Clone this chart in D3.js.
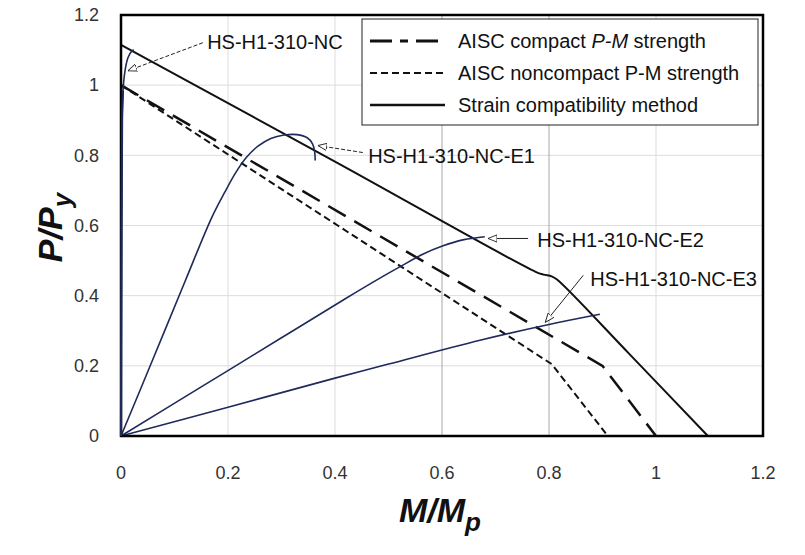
<!DOCTYPE html>
<html>
<head>
<meta charset="utf-8">
<script src="https://cdn.jsdelivr.net/npm/d3@7"></script>
<style>
  body { margin: 0; background: #fff; }
  text { font-family: "Liberation Sans", Arial, sans-serif; }
</style>
</head>
<body>
<svg id="chart"></svg>
<script>
// ---- data (M/Mp, P/Py) ----
const xTicks = [0, 0.2, 0.4, 0.6, 0.8, 1, 1.2];
const yTicks = [0, 0.2, 0.4, 0.6, 0.8, 1, 1.2];

const aiscCompact = [[0, 1.0], [0.9, 0.2], [1.0, 0]];
const aiscNoncompact = [[0, 1.0], [0.805, 0.205], [0.91, 0]];
const strainCompat = [[0, 1.115], [0.4, 0.782], [0.775, 0.468], [0.79, 0.46], [0.805, 0.455], [0.815, 0.446], [0.95, 0.234], [1.097, 0]];

const testNC = [[0, 0], [0.001, 0.6], [0.002, 0.9], [0.0037, 0.984], [0.0075, 1.041], [0.013, 1.078], [0.0206, 1.098], [0.024, 1.1]];
const testE1 = [[0, 0], [0.06, 0.22], [0.12, 0.442], [0.17, 0.624], [0.194, 0.695], [0.215, 0.752], [0.235, 0.795], [0.256, 0.826], [0.28, 0.848], [0.305, 0.858], [0.329, 0.859], [0.348, 0.85], [0.358, 0.833], [0.362, 0.81], [0.363, 0.785]];
const testE2 = [[0, 0], [0.15, 0.14], [0.3, 0.28], [0.42, 0.392], [0.484, 0.45], [0.521, 0.482], [0.564, 0.518], [0.602, 0.542], [0.639, 0.559], [0.665, 0.565], [0.68, 0.568]];
const testE3 = [[0, 0], [0.2, 0.082], [0.4, 0.165], [0.5, 0.205], [0.671, 0.273], [0.8, 0.318], [0.895, 0.347]];

const legendItems = ["AISC compact |P-M| strength", "AISC noncompact  P-M strength", "Strain compatibility  method"];

// label anchor, leader start, arrow tip (data units)
const notes = [
  { text: "HS-H1-310-NC", at: [0.161, 1.104], from: [0.153, 1.121], tip: [0.013, 1.041], dash: "4,2" },
  { text: "HS-H1-310-NC-E1", at: [0.462, 0.777], from: [0.452, 0.808], tip: [0.368, 0.828], dash: "4,2" },
  { text: "HS-H1-310-NC-E2", at: [0.778, 0.538], from: [0.761, 0.563], tip: [0.686, 0.563], dash: null },
  { text: "HS-H1-310-NC-E3", at: [0.877, 0.427], from: [0.864, 0.458], tip: [0.793, 0.324], dash: null }
];

const width = 805, height = 555;
const margin = { left: 121, right: 42, top: 15, bottom: 119 };

const svg = d3.select("#chart")
  .attr("width", width)
  .attr("height", height);

const x = d3.scaleLinear().domain([0, 1.2]).range([margin.left, width - margin.right]);
const y = d3.scaleLinear().domain([0, 1.2]).range([height - margin.bottom, margin.top]);

// grid
svg.append("g").selectAll("line.h")
  .data(yTicks.slice(1, -1))
  .join("line")
    .attr("x1", x(0)).attr("x2", x(1.2))
    .attr("y1", d => y(d)).attr("y2", d => y(d))
    .attr("stroke", "#dcdcdc").attr("stroke-width", 1);

svg.append("g").selectAll("line.v")
  .data(xTicks.slice(1, -1))
  .join("line")
    .attr("y1", y(0)).attr("y2", y(1.2))
    .attr("x1", d => x(d)).attr("x2", d => x(d))
    .attr("stroke", d => (d === 0.6 || d === 0.8) ? "#a8a8a8" : "#dcdcdc")
    .attr("stroke-width", 1);

// tick labels
svg.append("g").selectAll("text")
  .data(yTicks)
  .join("text")
    .attr("x", x(0) - 22)
    .attr("y", d => y(d))
    .attr("dy", "0.35em")
    .attr("text-anchor", "end")
    .attr("font-size", 18)
    .attr("fill", "#333")
    .text(d => d);

svg.append("g").selectAll("text")
  .data(xTicks)
  .join("text")
    .attr("x", d => x(d))
    .attr("y", y(0) + 43)
    .attr("text-anchor", "middle")
    .attr("font-size", 18)
    .attr("fill", "#333")
    .text(d => d);

const line = d3.line().x(d => x(d[0])).y(d => y(d[1]));
const smooth = d3.line().x(d => x(d[0])).y(d => y(d[1])).curve(d3.curveCatmullRom.alpha(0.5));

// design curves
svg.append("path").datum(aiscCompact)
  .attr("d", line).attr("fill", "none")
  .attr("stroke", "#111").attr("stroke-width", 2.5)
  .attr("stroke-dasharray", "20,10");

svg.append("path").datum(aiscNoncompact)
  .attr("d", line).attr("fill", "none")
  .attr("stroke", "#111").attr("stroke-width", 2)
  .attr("stroke-dasharray", "7,4");

svg.append("path").datum(strainCompat)
  .attr("d", smooth).attr("fill", "none")
  .attr("stroke", "#111").attr("stroke-width", 2);

// test curves
svg.append("g").selectAll("path")
  .data([testNC, testE1, testE2, testE3])
  .join("path")
    .attr("d", smooth)
    .attr("fill", "none")
    .attr("stroke", "#1f2a5c")
    .attr("stroke-width", 1.6);

// frame
svg.append("rect")
  .attr("x", x(0)).attr("y", y(1.2))
  .attr("width", x(1.2) - x(0)).attr("height", y(0) - y(1.2))
  .attr("fill", "none").attr("stroke", "#000").attr("stroke-width", 2.5);

// NC curve runs along the left edge, drawn on top of the frame
svg.append("path").datum(testNC.slice(0, 4))
  .attr("d", smooth).attr("fill", "none")
  .attr("stroke", "#1f2a5c").attr("stroke-width", 2.2);

// annotations
svg.append("defs").append("marker")
  .attr("id", "openArrow")
  .attr("viewBox", "0 0 10 10")
  .attr("refX", 10).attr("refY", 5)
  .attr("markerWidth", 9).attr("markerHeight", 9)
  .attr("markerUnits", "userSpaceOnUse")
  .attr("orient", "auto")
  .append("path")
    .attr("d", "M0,1 L10,5 L0,9 Z")
    .attr("fill", "#fff").attr("stroke", "#222").attr("stroke-width", 1);

const noteG = svg.append("g").selectAll("g").data(notes).join("g");
noteG.append("line")
  .attr("x1", d => x(d.from[0])).attr("y1", d => y(d.from[1]))
  .attr("x2", d => x(d.tip[0])).attr("y2", d => y(d.tip[1]))
  .attr("stroke", "#222").attr("stroke-width", 1)
  .attr("stroke-dasharray", d => d.dash)
  .attr("marker-end", "url(#openArrow)");
noteG.append("text")
  .attr("x", d => x(d.at[0])).attr("y", d => y(d.at[1]))
  .attr("font-size", 20).attr("fill", "#111")
  .text(d => d.text);

// legend
const lg = svg.append("g").attr("transform", "translate(362,19)");
lg.append("rect")
  .attr("width", 396).attr("height", 106)
  .attr("fill", "#fff").attr("stroke", "#222").attr("stroke-width", 1);

const legendStyles = [
  { dash: "22,8,8,8", w: 3 },
  { dash: "7,4", w: 2 },
  { dash: null, w: 2.5 }
];
const rows = lg.selectAll("g").data(legendItems).join("g")
  .attr("transform", (d, i) => `translate(0,${22 + i * 32})`);
rows.append("line")
  .attr("x1", 8).attr("x2", 83)
  .attr("stroke", "#111")
  .attr("stroke-width", (d, i) => legendStyles[i].w)
  .attr("stroke-dasharray", (d, i) => legendStyles[i].dash);
rows.append("text")
  .attr("x", 96).attr("dy", "0.35em")
  .attr("font-size", 20).attr("fill", "#111")
  .each(function (d) {
    const parts = d.split("|");
    const t = d3.select(this);
    parts.forEach((p, k) => {
      t.append("tspan").attr("font-style", k === 1 ? "italic" : null).text(p);
    });
  });

// axis titles
const yt = svg.append("text")
  .attr("transform", `translate(62,${(y(0) + y(1.2)) / 2 + 2}) rotate(-90)`)
  .attr("text-anchor", "middle")
  .attr("font-size", 34).attr("font-weight", "bold").attr("font-style", "italic")
  .attr("fill", "#111");
yt.append("tspan").text("P/P");
yt.append("tspan").attr("font-size", 26).attr("dy", 9).text("y");

const xt = svg.append("text")
  .attr("x", 440).attr("y", 522)
  .attr("text-anchor", "middle")
  .attr("font-size", 34).attr("font-weight", "bold").attr("font-style", "italic")
  .attr("fill", "#111");
xt.append("tspan").text("M/M");
xt.append("tspan").attr("font-size", 26).attr("dy", 9).text("p");
</script>
</body>
</html>
